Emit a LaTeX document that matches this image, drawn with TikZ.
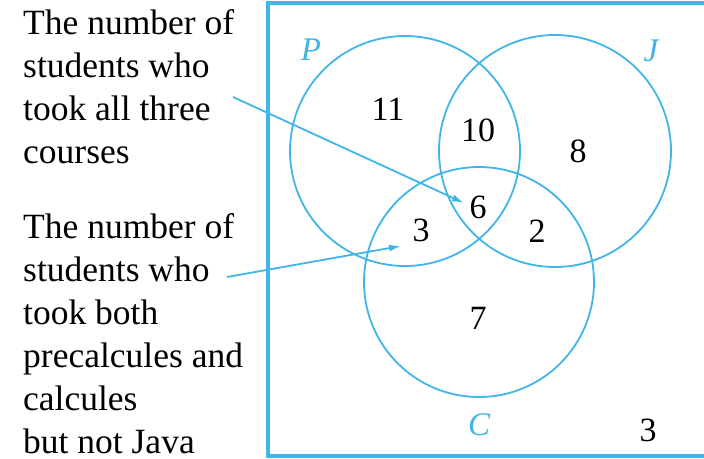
\documentclass[tikz,border=0pt]{standalone}
\usepackage{fontspec}
\setmainfont{Liberation Serif}
\usetikzlibrary{arrows.meta}
\definecolor{vblue}{RGB}{64,182,232}
\begin{document}
\begin{tikzpicture}[x=1pt,y=-1pt,
  circ/.style={draw=vblue,line width=1.8pt},
  num/.style={font=\fontsize{34}{34}\selectfont,inner sep=0pt},
  setlab/.style={font=\fontsize{33}{33}\selectfont\itshape,text=vblue,inner sep=0pt},
  note/.style={font=\fontsize{35.5}{43}\selectfont,align=left,inner sep=0pt,anchor=north west},
  pointer/.style={draw=vblue,line width=1.8pt,-{Latex[length=12pt,width=7pt]}}]
\useasboundingbox (0,0) rectangle (704,458);
\fill[white] (0,0) rectangle (704,458);
\begin{scope}
\clip (0,0) rectangle (704,458);
\draw[vblue,line width=3.4pt] (268,3) rectangle (720,456);
\end{scope}
\draw[circ] (405,151) circle (115);
\draw[circ] (555,151) circle (116);
\draw[circ] (479,282) circle (115);
\node[setlab] (lp) at (311,50) {P};
\node[setlab] (lj) at (651,51) {J};
\node[setlab] (lc) at (479,425) {C};
\node[num] (n11) at (388,109) {11};
\node[num] (n10) at (478,130) {10};
\node[num] (n8) at (578,151) {8};
\node[num] (n6) at (478,207) {6};
\node[num] (n3) at (421,230) {3};
\node[num] (n2) at (537,231) {2};
\node[num] (n7) at (478,318) {7};
\node[num] (n0) at (648,430) {3};
\node[note] (t1) at (23,9) {The number of\\students who\\took all three\\courses};
\node[note] (t2) at (23,213) {The number of\\students who\\took both\\precalcules and\\calcules\\but not Java};
\coordinate (a1s) at (233,97);
\coordinate (a1e) at (464,203);
\coordinate (a2s) at (227,277);
\coordinate (a2e) at (401,246);
\draw[pointer] (a1s) -- (a1e);
\draw[pointer] (a2s) -- (a2e);
\end{tikzpicture}
\end{document}
